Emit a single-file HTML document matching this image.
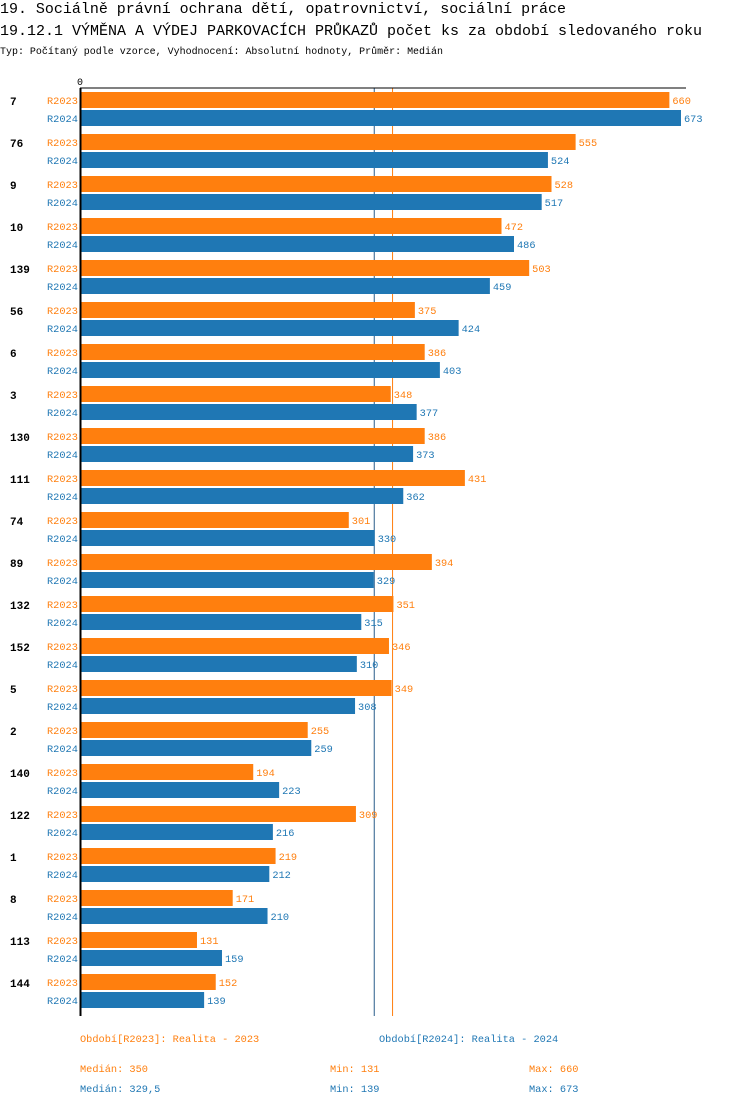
<!DOCTYPE html>
<html><head><meta charset="utf-8"><style>
body{margin:0;background:#fff;width:750px;height:1106px;overflow:hidden}
svg{display:block;font-family:"Liberation Mono",monospace}
</style></head><body>
<svg id="c" width="750" height="1106">
<text x="0" y="13" font-size="15" textLength="566" lengthAdjust="spacingAndGlyphs" fill="#000">19. Sociálně právní ochrana dětí, opatrovnictví, sociální práce</text>
<text x="0" y="35" font-size="15" textLength="702" lengthAdjust="spacingAndGlyphs" fill="#000">19.12.1 VÝMĚNA A VÝDEJ PARKOVACÍCH PRŮKAZŮ počet ks za období sledovaného roku</text>
<text x="0" y="54" font-size="10" textLength="443" lengthAdjust="spacingAndGlyphs" fill="#000">Typ: Počítaný podle vzorce, Vyhodnocení: Absolutní hodnoty, Průměr: Medián</text>
<text x="77" y="85" font-size="10" fill="#000">0</text>
<g id="med"></g>
<g id="bars"></g>
<line x1="80" y1="88" x2="686" y2="88" stroke="#000" stroke-width="1"/>
<line x1="80.5" y1="88" x2="80.5" y2="1016" stroke="#000" stroke-width="2"/>
<text x="80" y="1042" font-size="10.3" fill="#ff7f0e">Období[R2023]: Realita - 2023</text>
<text x="379" y="1042" font-size="10.3" fill="#1f77b4">Období[R2024]: Realita - 2024</text>
<text x="80" y="1072" font-size="10.3" fill="#ff7f0e">Medián: 350</text>
<text x="330" y="1072" font-size="10.3" fill="#ff7f0e">Min: 131</text>
<text x="529" y="1072" font-size="10.3" fill="#ff7f0e">Max: 660</text>
<text x="80" y="1092" font-size="10.3" fill="#1f77b4">Medián: 329,5</text>
<text x="330" y="1092" font-size="10.3" fill="#1f77b4">Min: 139</text>
<text x="529" y="1092" font-size="10.3" fill="#1f77b4">Max: 673</text>
</svg>
<script>
const categories=["7","76","9","10","139","56","6","3","130","111","74","89","132","152","5","2","140","122","1","8","113","144"];
const values2023=[660,555,528,472,503,375,386,348,386,431,301,394,351,346,349,255,194,309,219,171,131,152];
const values2024=[673,524,517,486,459,424,403,377,373,362,330,329,315,310,308,259,223,216,212,210,159,139];
const medians=[350,329.5];
const NS="http://www.w3.org/2000/svg";
const O="#ff7f0e",B="#1f77b4";
function xs(v){return 80+v*0.893;}
function yg(i){return 92+i*42;}
const g=document.getElementById('bars');
function mk(tag,attrs,txt){const e=document.createElementNS(NS,tag);for(const k in attrs)e.setAttribute(k,attrs[k]);if(txt!=null)e.textContent=txt;return e;}
categories.forEach((c,i)=>{
  const y=yg(i);
  const cl=mk('text',{x:10,y:y+13,'font-size':11,'font-weight':'bold',fill:'#000'},c);
  
  
  g.appendChild(cl);
  [[values2023[i],O,'R2023',0],[values2024[i],B,'R2024',18]].forEach(([v,col,lab,off])=>{
    const r=mk('rect',{x:81,y:y+off,width:xs(v)-81,height:16,fill:col});
    
    
    g.appendChild(r);
    const sl=mk('text',{x:47,y:y+off+12,'font-size':10.3,fill:col},lab);
    
    
    g.appendChild(sl);
    const vl=mk('text',{x:xs(v)+3,y:y+off+12,'font-size':10.3,fill:col},String(v));
    
    
    g.appendChild(vl);
  });
});
const m=document.getElementById('med');
[[medians[0],O],[medians[1],'#2a5d8a']].forEach(([v,col],k)=>{
  const l=mk('line',{x1:xs(v),x2:xs(v),y1:88,y2:1016,stroke:col,'stroke-width':1});
  
  
  m.appendChild(l);
});
</script>
</body></html>
